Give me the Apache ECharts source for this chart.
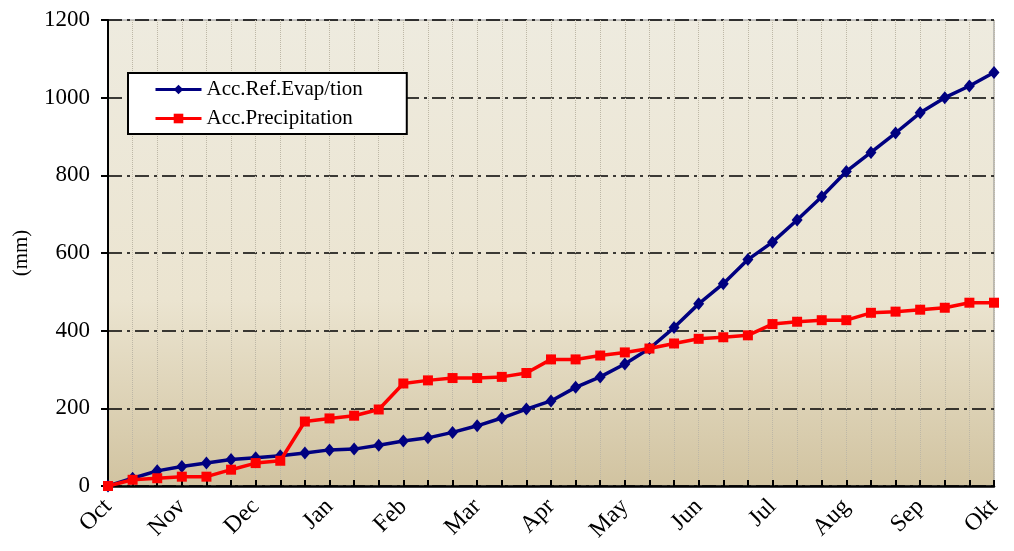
<!DOCTYPE html>
<html>
<head>
<meta charset="utf-8">
<script src="https://cdn.jsdelivr.net/npm/echarts@6/dist/echarts.min.js"></script>
<style>
  html, body { margin: 0; padding: 0; background: #fff; }
  #chart { width: 1014px; height: 551px; }
</style>
</head>
<body>
<div id="chart"></div>
<script>
// 37 points, three per month; only every third gets a label
const monthLabels = ['Oct', 'Nov', 'Dec', 'Jan', 'Feb', 'Mar', 'Apr', 'May', 'Jun', 'Jul', 'Aug', 'Sep', 'Okt']
const categories = []
monthLabels.forEach((m, i) => {
  categories.push(m)
  if (i < monthLabels.length - 1) {
    categories.push(m + '-2', m + '-3')
  }
})

const evapData = [0, 20, 39, 50, 59, 68, 73, 78, 85, 93, 95, 105, 116, 124, 138, 155, 175, 198, 219,
  254, 281, 314, 354, 408, 469, 521, 583, 628, 685, 745, 810, 859, 909, 961, 1000, 1030, 1065]
const precipData = [0, 16, 20, 24, 24, 42, 59, 65, 166, 174, 181, 197, 264, 272, 278, 278, 281, 291, 326,
  326, 336, 344, 354, 367, 379, 383, 388, 417, 423, 427, 427, 446, 449, 454, 459, 472, 472]

const yTicks = [0, 200, 400, 600, 800, 1000, 1200]

const font = 'Liberation Serif'

const chart = echarts.init(document.getElementById('chart'))

chart.setOption({
  animation: false,
  textStyle: { fontFamily: font, color: '#000' },
  grid: {
    left: 108,
    right: 20,
    top: 20,
    bottom: 65,
    show: true,
    borderColor: '#8c8c8c',
    borderWidth: 1,
    backgroundColor: new echarts.graphic.LinearGradient(0, 0, 0, 1, [
      { offset: 0, color: '#eeebdf' },
      { offset: 0.6, color: '#ebe4d0' },
      { offset: 1, color: '#d1c3a0' }
    ])
  },
  legend: {
    orient: 'vertical',
    left: 128,
    top: 73,
    backgroundColor: '#fff',
    borderColor: '#000',
    borderWidth: 2,
    padding: [6, 44, 5, 26],
    itemWidth: 46,
    itemHeight: 12,
    itemGap: 8,
    lineStyle: { width: 3 },
    textStyle: { fontFamily: font, fontSize: 21, color: '#000' },
    data: ['Acc.Ref.Evap/tion', 'Acc.Precipitation']
  },
  xAxis: {
    type: 'category',
    data: categories,
    boundaryGap: false,
    axisLine: { lineStyle: { color: '#000', width: 2.5 } },
    axisTick: { inside: true, interval: 0, length: 6, lineStyle: { color: '#000', width: 2 } },
    axisLabel: {
      interval: 2,
      rotate: 45,
      margin: 17,
      fontFamily: font,
      fontSize: 24,
      color: '#000',
      formatter: v => v.indexOf('-') >= 0 ? '' : v
    },
    splitLine: {
      show: true,
      interval: 0,
      lineStyle: { color: '#bdb7a6', type: 'dotted', width: 1 }
    }
  },
  yAxis: {
    type: 'value',
    min: yTicks[0],
    max: yTicks[yTicks.length - 1],
    interval: 200,
    name: '(mm)',
    nameLocation: 'middle',
    nameGap: 76,
    nameTextStyle: { fontFamily: font, fontSize: 21, color: '#000' },
    axisLine: { show: true, lineStyle: { color: '#000', width: 2 } },
    axisTick: { show: true, length: 7, lineStyle: { color: '#000', width: 2 } },
    axisLabel: {
      fontFamily: font,
      fontSize: 23,
      color: '#000',
      margin: 18,
      formatter: v => String(v)
    },
    splitLine: {
      lineStyle: { color: '#000', width: 1.5, type: [14, 5, 3, 5] }
    }
  },
  series: [
    {
      name: 'Acc.Ref.Evap/tion',
      type: 'line',
      data: evapData,
      symbol: 'diamond',
      symbolSize: [11, 13],
      color: '#000080',
      lineStyle: { color: '#000080', width: 3.5 },
      itemStyle: { color: '#000080' },
      z: 3
    },
    {
      name: 'Acc.Precipitation',
      type: 'line',
      data: precipData,
      symbol: 'rect',
      symbolSize: 10,
      color: '#ff0000',
      lineStyle: { color: '#ff0000', width: 3.5 },
      itemStyle: { color: '#ff0000' },
      z: 4
    }
  ]
})

window.addEventListener('resize', () => {
  chart.resize()
})
</script>
</body>
</html>
